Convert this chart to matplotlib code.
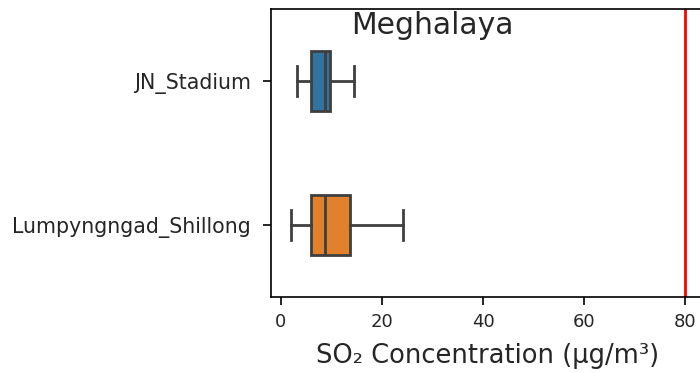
import matplotlib
matplotlib.use("Agg")
import matplotlib.pyplot as plt

plt.rcParams["font.family"] = ["DejaVu Sans"]

stations = ["JN_Stadium", "Lumpyngngad_Shillong"]
whislo = [3.1, 2.0]
q1 = [5.9, 5.9]
med = [8.8, 8.7]
q3 = [9.7, 13.7]
whishi = [14.5, 24.1]
colors = ["#3274a1", "#e1812c"]
limit = 80
title = "Meghalaya"
xlabel = "SO\u2082 Concentration (\u00b5g/m\u00b3)"

fig = plt.figure(figsize=(7.0, 3.73), dpi=100)
W, H = 700, 373
left_px, right_px, top_px, bot_px = 271.4, 704.7, 9, 297
ax = fig.add_axes([left_px / W, 1 - bot_px / H, (right_px - left_px) / W, (bot_px - top_px) / H])

stats = []
for i, s in enumerate(stations):
    stats.append(dict(label=s, whislo=whislo[i], q1=q1[i], med=med[i], q3=q3[i], whishi=whishi[i], fliers=[]))

edge = "#3f3f3f"
lw = 2.0
bp = ax.bxp(stats, positions=range(len(stations)), widths=0.42, capwidths=0.21,
            orientation="horizontal", patch_artist=True, showfliers=False,
            boxprops=dict(edgecolor=edge, linewidth=lw),
            whiskerprops=dict(color=edge, linewidth=lw),
            capprops=dict(color=edge, linewidth=lw),
            medianprops=dict(color=edge, linewidth=lw))
for patch, c in zip(bp["boxes"], colors):
    patch.set_facecolor(c)

txt = "#262626"
ax.axvline(limit, color="red", linewidth=2.0)
ax.set_ylim(1.5, -0.5)
ax.set_xlim(-1.9, 83.9)
ax.set_xticks([0, 20, 40, 60, 80])
ax.set_yticks(range(len(stations)))
ax.set_yticklabels(stations)
ax.tick_params(axis="x", labelsize=13, length=6, width=1.2, pad=5.5, labelcolor=txt)
ax.tick_params(axis="y", labelsize=14.8, length=6, width=1.2, pad=9, labelcolor=txt)
for sp in ax.spines.values():
    sp.set_linewidth(1.2)
ax.set_xlabel(xlabel, fontsize=18.5, labelpad=9, color=txt)
fig.text(432 / W, 1 - 25 / H, title, fontsize=21.5, ha="center", va="center", color=txt)

fig.savefig("out.png", dpi=100)
